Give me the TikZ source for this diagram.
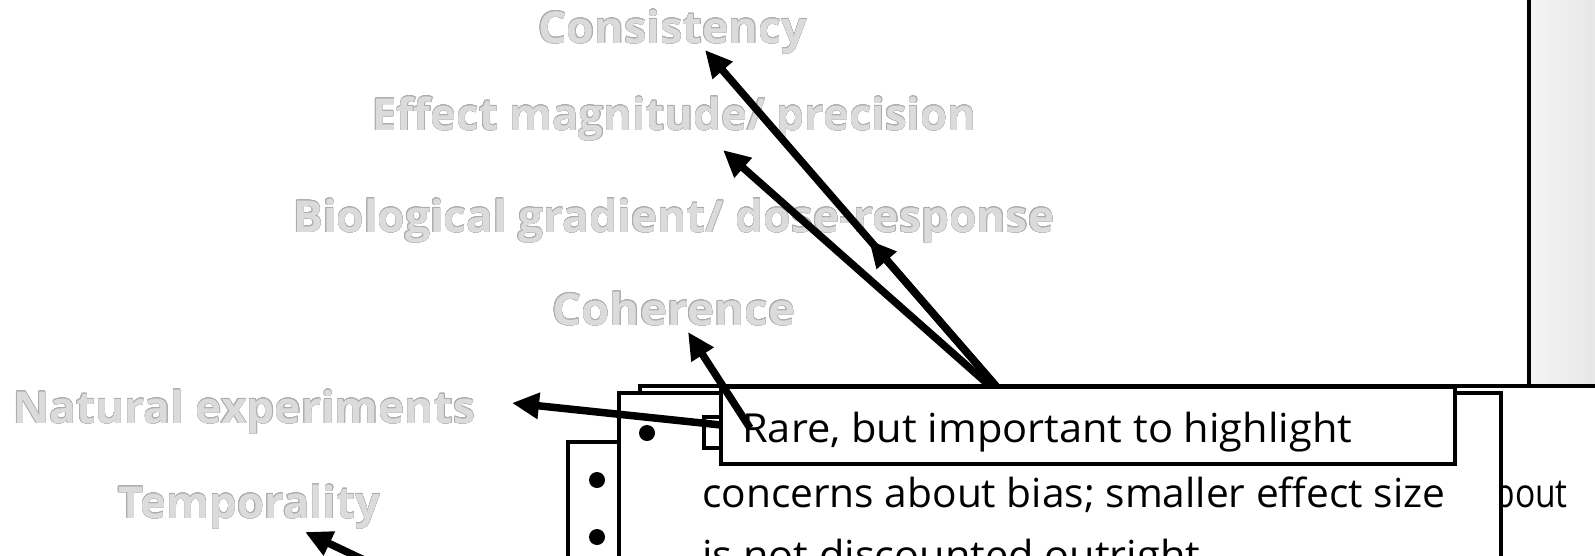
\documentclass[tikz,border=0pt]{standalone}
\usepackage{fontspec}
\setmainfont{Open Sans}
\usepackage{contour}
\contourlength{0.3pt}
\usetikzlibrary{arrows.meta}

\definecolor{lblfill}{gray}{0.86}
\definecolor{lbledge}{gray}{0.68}
% stretch a text to a given width (in pt), keep its height
\newcommand{\fitw}[2]{\resizebox{#1pt}{\height}{#2}}
\newcommand{\crit}[2]{\fitw{#1}{\textcolor{lblfill}{\contour{lbledge}{#2}}}}

\begin{document}
\begin{tikzpicture}[x=1pt, y=-1pt,
    lbl/.style={anchor=base west, inner sep=0pt, font=\fontsize{44}{48}\selectfont\bfseries},
    txt/.style={anchor=base west, inner sep=0pt, font=\fontsize{40}{48}\selectfont},
    panel/.style={draw=black, line width=3.5pt, fill=white},
    ptr/.style={line width=7.5pt, -{Triangle[length=27pt, width=25pt]}},
    dot/.style={circle, fill=black, inner sep=0pt, minimum size=16pt}]
    \useasboundingbox (0,0) rectangle (1595,555);
    \clip (0,0) rectangle (1595,555);

    % criteria labels
    \node[lbl] (cons) at (538,43) {\crit{269}{Consistency}};
    \node[lbl] (effect) at (372,130) {\crit{604}{Effect magnitude/ precision}};
    \node[lbl] (bio) at (293,232) {\crit{761}{Biological gradient/ dose-response}};
    \node[lbl] (coher) at (552,325) {\crit{243}{Coherence}};
    \node[lbl] (natexp) at (13,423) {\crit{462}{Natural experiments}};
    \node[lbl] (tempo) at (118,518) {\crit{262}{Temporality}};

    % slide panels behind the callout
    \shade[left color=black!4, right color=black!10] (1529,-5) rectangle (1600,386);
    \draw[line width=3.5pt] (1529,-5) -- (1529,386);
    \draw[panel] (640,386) rectangle (1620,620);
    \node[txt, anchor=base east] (about) at (1568,507) {\fitw{92}{about}};
    \draw[panel] (568,442) rectangle (660,620);
    \node[dot] (dotC1) at (597,480) {};
    \node[dot] (dotC2) at (597,537) {};
    \draw[panel] (619,393) rectangle (1501,620);
    \node[dot] (dotB) at (647,433) {};
    \node[txt] (line2) at (702,507) {\fitw{743}{concerns about bias; smaller effect size}};
    \node[txt] (line3) at (702,569) {\fitw{498}{is not discounted outright}};
    \draw[line width=3.5pt] (704,417) rectangle (732,448);

    % callout
    \draw[panel] (721,387) rectangle (1455,464);
    \node[txt] (rare) at (742,442) {\fitw{610}{Rare, but important to highlight}};

    % arrow ends
    \coordinate (tailA) at (996,386);
    \coordinate (tailB) at (990,386);
    \coordinate (tipCons) at (705,50);
    \coordinate (tipEffect) at (723,150);
    \coordinate (tipBio) at (869,240);
    \coordinate (tailCoher) at (750,428);
    \coordinate (tipCoher) at (688,332);
    \coordinate (tailNat) at (721,425);
    \coordinate (tipNat) at (512,403);
    \coordinate (tailTempo) at (402,578);
    \coordinate (tipTempo) at (305,532);

    \draw[ptr] (tailA) -- (tipCons);
    \draw[ptr] (tailA) -- (tipBio);
    \draw[ptr] (tailB) -- (tipEffect);
    \draw[ptr] (tailCoher) -- (tipCoher);
    \draw[ptr] (tailNat) -- (tipNat);
    \draw[ptr] (tailTempo) -- (tipTempo);
\end{tikzpicture}
\end{document}
